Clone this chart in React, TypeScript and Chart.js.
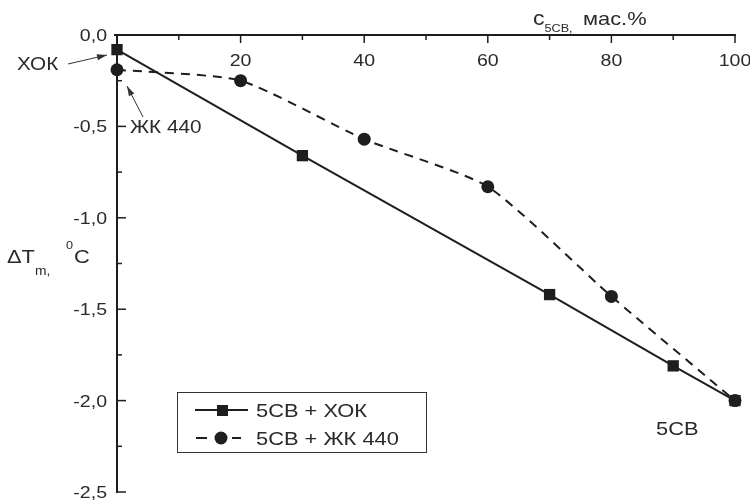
import React, { useEffect, useRef } from "react";
import { Chart, registerables } from "chart.js";

Chart.register(...registerables);

// ---- data ----
const xokX = [0, 30, 70, 90, 100];
const xokY = [-0.08, -0.66, -1.42, -1.81, -2.0];
const zhkX = [0, 20, 40, 60, 80, 100];
const zhkY = [-0.19, -0.25, -0.57, -0.83, -1.43, -2.0];
const seriesNames = ["5CB + ХОК", "5CB + ЖК 440"];

const xMajorTicks = [0, 20, 40, 60, 80, 100];
const xTickLabels = ["", "20", "40", "60", "80", "100"];
const xMinorTicks = [10, 30, 50, 70, 90];
const yMajorTicks = [0, -0.5, -1.0, -1.5, -2.0, -2.5];
const yTickLabels = ["0,0", "-0,5", "-1,0", "-1,5", "-2,0", "-2,5"];
const yMinorTicks = [-0.25, -0.75, -1.25, -1.75, -2.25];

const FONT = '"Liberation Sans", Arial, sans-serif';
const INK = "#1e1e1e";
const TXT = "#2a2a2a";
const SX = 1.15;

function txt(ctx: CanvasRenderingContext2D, s: string, x: number, y: number, size: number, align: CanvasTextAlign = "left", sx = SX) {
  ctx.save();
  ctx.font = `${size}px ${FONT}`;
  ctx.fillStyle = TXT;
  ctx.textBaseline = "alphabetic";
  ctx.textAlign = align;
  ctx.translate(x, y);
  ctx.scale(sx, 1);
  ctx.fillText(s, 0, 0);
  const w = ctx.measureText(s).width * sx;
  ctx.restore();
  return w;
}

function seg(ctx: CanvasRenderingContext2D, x1: number, y1: number, x2: number, y2: number) {
  ctx.beginPath();
  ctx.moveTo(x1, y1);
  ctx.lineTo(x2, y2);
  ctx.stroke();
}

function arrow(ctx: CanvasRenderingContext2D, x1: number, y1: number, x2: number, y2: number) {
  ctx.save();
  ctx.strokeStyle = "#333";
  ctx.fillStyle = "#333";
  ctx.lineWidth = 1;
  seg(ctx, x1, y1, x2, y2);
  const a = Math.atan2(y2 - y1, x2 - x1);
  const L = 10, W = 3;
  ctx.beginPath();
  ctx.moveTo(x2, y2);
  ctx.lineTo(x2 - L * Math.cos(a) + W * Math.sin(a), y2 - L * Math.sin(a) - W * Math.cos(a));
  ctx.lineTo(x2 - L * Math.cos(a) - W * Math.sin(a), y2 - L * Math.sin(a) + W * Math.cos(a));
  ctx.closePath();
  ctx.fill();
  ctx.restore();
}

const axesPlugin = {
  id: "customAxes",
  beforeDatasetsDraw(chart: any) {
    const { ctx, chartArea, scales } = chart;
    const { left, right, top, bottom } = chartArea;
    const xs = scales.x, ys = scales.y;
    ctx.save();
    ctx.strokeStyle = INK;
    ctx.lineWidth = 2;
    seg(ctx, left - 3, top, right + 1, top);
    seg(ctx, left, top, left, bottom + 1);
    ctx.lineWidth = 1.5;
    xMajorTicks.forEach((v, i) => {
      const px = xs.getPixelForValue(v);
      seg(ctx, px, top, px, top + 8);
      if (xTickLabels[i]) txt(ctx, xTickLabels[i], px, top + 31, 17, "center");
    });
    xMinorTicks.forEach((v) => {
      const px = xs.getPixelForValue(v);
      seg(ctx, px, top, px, top + 5);
    });
    yMajorTicks.forEach((v, i) => {
      const py = ys.getPixelForValue(v);
      seg(ctx, left, py, left + 9, py);
      txt(ctx, yTickLabels[i], left - 10, py + 6, 17, "right");
    });
    yMinorTicks.forEach((v) => {
      const py = ys.getPixelForValue(v);
      seg(ctx, left, py, left + 5, py);
    });
    ctx.restore();
  },
  afterDraw(chart: any) {
    const { ctx } = chart;
    ctx.save();
    // x axis title: c_5CB, мас.%
    let x = 533;
    x += txt(ctx, "c", x, 25, 20);
    x += txt(ctx, "5CB", x, 32, 11);
    txt(ctx, ",", x, 32, 11);
    txt(ctx, "мас.%", 583, 25, 19);
    // y axis title: ΔT_m, 0C
    x = 7;
    x += txt(ctx, "ΔT", x, 263, 19);
    x += txt(ctx, "m", x, 275, 12);
    txt(ctx, ",", x, 275, 12);
    txt(ctx, "0", 66, 249, 11);
    txt(ctx, "C", 74, 263, 19);
    // annotations
    txt(ctx, "ХОК", 17, 70, 18);
    arrow(ctx, 68, 64, 107, 55);
    txt(ctx, "ЖК 440", 130, 133, 18);
    arrow(ctx, 143, 117, 127, 86);
    txt(ctx, "5CB", 656, 435, 19);
    // legend
    ctx.strokeStyle = "#333";
    ctx.lineWidth = 1;
    ctx.strokeRect(177.5, 392.5, 249, 60);
    ctx.strokeStyle = INK;
    ctx.fillStyle = INK;
    ctx.lineWidth = 2;
    seg(ctx, 195, 410, 248, 410);
    ctx.fillRect(217, 405, 11, 11);
    seg(ctx, 196, 438, 207, 438);
    seg(ctx, 232, 438, 241, 438);
    ctx.beginPath();
    ctx.arc(221, 438, 6.5, 0, Math.PI * 2);
    ctx.fill();
    txt(ctx, seriesNames[0], 256, 417, 19);
    txt(ctx, seriesNames[1], 256, 445, 19);
    ctx.restore();
  },
};

export default function App() {
  const ref = useRef<HTMLCanvasElement | null>(null);
  useEffect(() => {
    if (!ref.current) return;
    const chart = new Chart(ref.current, {
      type: "line",
      data: {
        datasets: [
          {
            label: seriesNames[0],
            data: xokX.map((v, i) => ({ x: v, y: xokY[i] })),
            borderColor: INK,
            backgroundColor: INK,
            borderWidth: 2,
            pointStyle: "rect",
            pointRadius: 8,
            pointBorderWidth: 0,
            tension: 0,
            clip: false as any,
          },
          {
            label: seriesNames[1],
            data: zhkX.map((v, i) => ({ x: v, y: zhkY[i] })),
            borderColor: INK,
            backgroundColor: INK,
            borderWidth: 2,
            borderDash: [9, 7],
            pointStyle: "circle",
            pointRadius: 6.5,
            pointBorderWidth: 0,
            tension: 0.2,
            clip: false as any,
          },
        ],
      },
      options: {
        animation: false,
        responsive: false,
        layout: { padding: { left: 117, top: 35, right: 15, bottom: 8 } },
        plugins: { legend: { display: false }, tooltip: { enabled: false } },
        scales: {
          x: { type: "linear", min: 0, max: 100, display: false },
          y: { type: "linear", min: -2.5, max: 0, display: false },
        },
      },
      plugins: [axesPlugin],
    });
    return () => chart.destroy();
  }, []);
  return (
    <div style={{ position: "fixed", left: 0, top: 0, width: 750, height: 500, background: "#fff" }}>
      <canvas ref={ref} width={750} height={500} />
    </div>
  );
}
